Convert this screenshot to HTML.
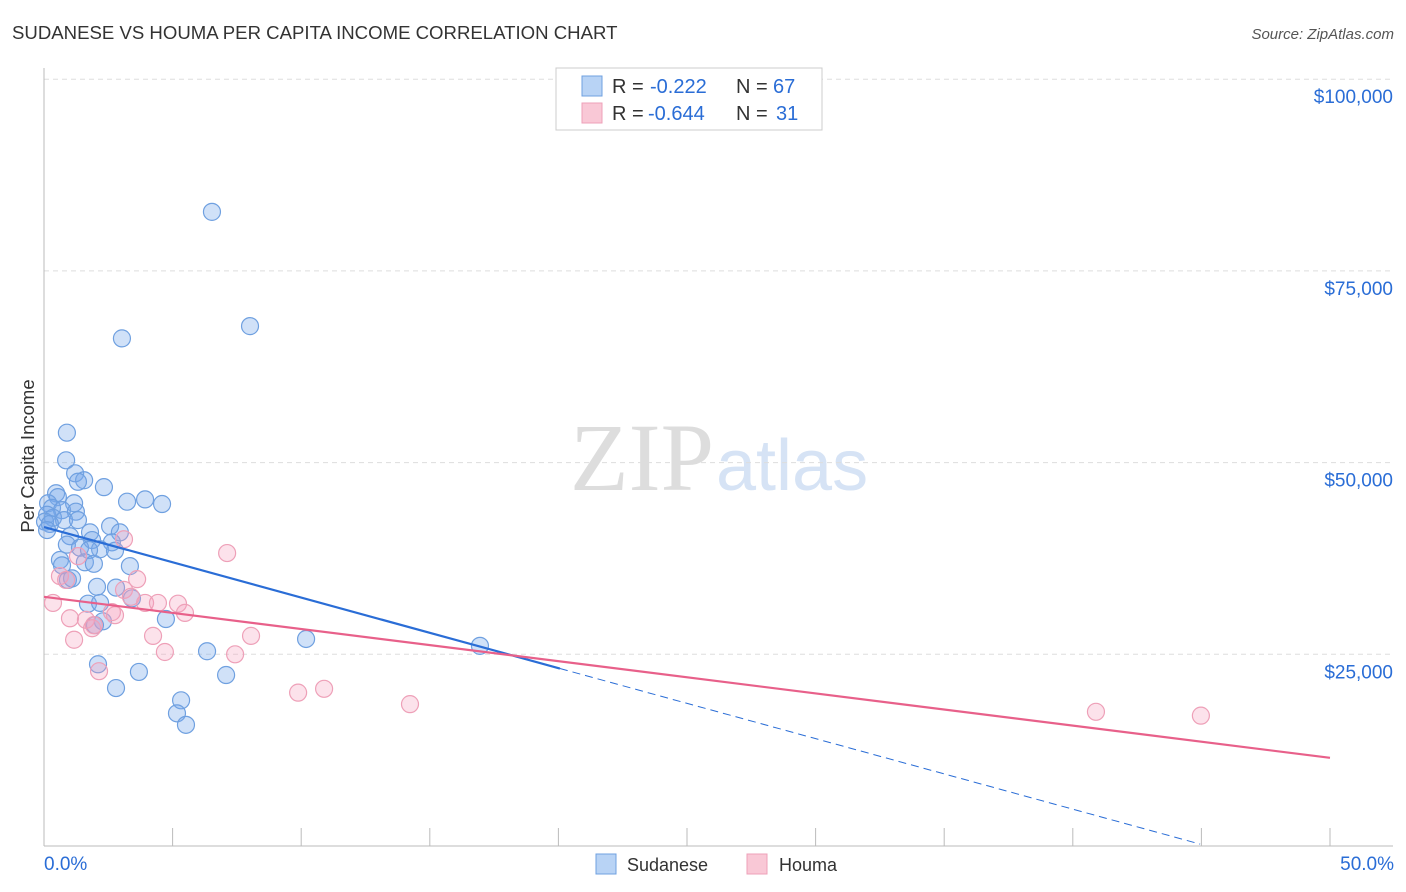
<!DOCTYPE html>
<html><head><meta charset="utf-8"><style>
body{margin:0;background:#fff;font-family:"Liberation Sans",sans-serif;}
svg{display:block}
</style></head><body>
<svg id="chart" width="1406" height="892">
<text x="12" y="39" font-size="18.6" fill="#333">SUDANESE VS HOUMA PER CAPITA INCOME CORRELATION CHART</text>
<text x="1394" y="39" font-size="15" fill="#555" font-style="italic" text-anchor="end">Source: ZipAtlas.com</text>
<text x="34" y="456" font-size="18.5" fill="#333" transform="rotate(-90 34 456)" text-anchor="middle">Per Capita Income</text>
<text x="714" y="490" font-size="96" fill="#ddd" font-family="Liberation Serif,serif" text-anchor="end">ZIP</text>
<text x="716" y="490" font-size="72" fill="#d6e3f5">atlas</text>
<g id="grid"></g><g id="axes"></g><g id="pts"></g><g id="lines"></g>
<g>
<rect x="556" y="68" width="266" height="62" fill="#fff" stroke="#ccc"/>
<rect x="582" y="76" width="20" height="20" fill="#b8d3f5" stroke="#6fa0e0"/>
<text x="612" y="93" font-size="20" fill="#333">R =</text>
<text x="650" y="93" font-size="20" fill="#2a6dd6">-0.222</text>
<text x="736" y="93" font-size="20" fill="#333">N =</text>
<text x="773" y="93" font-size="20" fill="#2a6dd6">67</text>
<rect x="582" y="103" width="20" height="20" fill="#f9c8d6" stroke="#eea0b8"/>
<text x="612" y="120" font-size="20" fill="#333">R =</text>
<text x="648" y="120" font-size="20" fill="#2a6dd6">-0.644</text>
<text x="736" y="120" font-size="20" fill="#333">N =</text>
<text x="776" y="120" font-size="20" fill="#2a6dd6">31</text>
</g>
<g>
<rect x="596" y="854" width="20" height="20" fill="#b8d3f5" stroke="#6fa0e0"/>
<text x="627" y="871" font-size="18" fill="#333">Sudanese</text>
<rect x="747" y="854" width="20" height="20" fill="#f9c8d6" stroke="#eea0b8"/>
<text x="779" y="871" font-size="18" fill="#333">Houma</text>
</g>
</svg>
<script>
const blueX=[6.53,3.03,8.01,0.89,0.86,1.21,1.56,1.32,0.47,0.54,2.33,3.23,3.93,4.59,1.17,0.16,0.31,0.70,1.24,0.12,0.35,0.78,1.32,0.04,0.23,2.57,1.79,2.95,1.01,1.87,0.89,2.64,1.40,2.18,1.75,2.76,0.62,1.59,1.94,3.34,0.93,1.09,2.06,2.80,3.42,1.71,2.18,4.74,2.29,1.98,2.10,3.69,2.80,6.34,7.08,10.19,16.95,5.33,5.17,5.52,0.70,0.12];
const blueY=[82.7,66.2,67.8,53.9,50.3,48.6,47.7,47.5,46.0,45.5,46.8,44.9,45.2,44.6,44.7,44.7,44.1,43.8,43.6,43.2,42.8,42.5,42.5,42.3,42.0,41.7,40.9,40.9,40.4,39.9,39.3,39.6,38.9,38.7,38.6,38.5,37.3,37.0,36.8,36.5,34.7,34.9,33.8,33.7,32.3,31.6,31.7,29.6,29.3,28.8,23.7,22.7,20.6,25.4,22.3,27.0,26.1,19.0,17.3,15.8,36.6,41.2];
const pinkX=[0.35,0.62,0.86,1.32,1.01,1.17,1.63,1.87,2.14,2.64,3.11,3.11,3.38,3.62,3.93,4.24,4.43,4.70,5.21,5.48,7.12,7.43,8.05,9.88,10.89,14.23,40.90,44.98,1.94,2.76];
const pinkY=[31.7,35.2,34.7,37.8,29.7,26.9,29.5,28.4,22.8,30.5,40.0,33.4,32.5,34.8,31.7,27.4,31.7,25.3,31.6,30.4,38.2,25.0,27.4,20.0,20.5,18.5,17.5,17.0,28.8,30.1];
const yTicks=[25,50,75,100];
const yTickLabels=["$25,000","$50,000","$75,000","$100,000"];
const xTicks=[0,5,10,15,20,25,30,35,40,45,50];
const blueLine=[41.6,0.25];
const blueSolidEnd=20.06;
const pinkLine=[32.5,11.5];
const NS="http://www.w3.org/2000/svg";
const X=v=>44+v*25.72, Y=v=>846-v*7.668;
function mk(tag,attrs,parent){const e=document.createElementNS(NS,tag);for(const k in attrs)e.setAttribute(k,attrs[k]);parent.appendChild(e);return e;}
const grid=document.getElementById('grid'),axes=document.getElementById('axes'),pts=document.getElementById('pts'),lines=document.getElementById('lines');
yTicks.forEach((t,i)=>{
 const l=mk('line',{x1:44,x2:1393,y1:Y(t),y2:Y(t),stroke:'#ddd','stroke-dasharray':'5,4'},grid);
 
 
 const tx=mk('text',{x:1393,y:Y(t)+24,'font-size':19,fill:'#2a6dd6','text-anchor':'end'},axes);
 tx.textContent=yTickLabels[i];
 
 
});
mk('line',{x1:44,x2:44,y1:68,y2:846,stroke:'#bbb'},axes);
mk('line',{x1:44,x2:1393,y1:846,y2:846,stroke:'#bbb'},axes);
xTicks.forEach(t=>{const l=mk('line',{x1:X(t),x2:X(t),y1:828,y2:846,stroke:'#bbb'},axes);
 
 });
let a=mk('text',{x:44,y:870,'font-size':19,fill:'#2a6dd6'},axes);a.textContent='0.0%';


a=mk('text',{x:1394,y:870,'font-size':19,fill:'#2a6dd6','text-anchor':'end'},axes);a.textContent='50.0%';


blueX.forEach((x,i)=>{const c=mk('circle',{cx:X(x),cy:Y(blueY[i]),r:8.5,fill:'rgba(120,170,235,0.35)',stroke:'#6fa0e0','stroke-width':1.2},pts);
 
 });
pinkX.forEach((x,i)=>{const c=mk('circle',{cx:X(x),cy:Y(pinkY[i]),r:8.5,fill:'rgba(245,160,190,0.3)',stroke:'#eea0b8','stroke-width':1.2},pts);
 
 });
const bY=x=>blueLine[0]+(blueLine[1]-blueLine[0])*x/44.95;
let l=mk('line',{x1:X(0),y1:Y(bY(0)),x2:X(blueSolidEnd),y2:Y(bY(blueSolidEnd)),stroke:'#2a6dd6','stroke-width':2.2},lines);


l=mk('line',{x1:X(blueSolidEnd),y1:Y(bY(blueSolidEnd)),x2:X(44.95),y2:Y(bY(44.95)),stroke:'#2a6dd6','stroke-width':1,'stroke-dasharray':'8,5'},lines);


l=mk('line',{x1:X(0),y1:Y(pinkLine[0]),x2:X(50),y2:Y(pinkLine[1]),stroke:'#e8608a','stroke-width':2.2},lines);


</script>
</body></html>
